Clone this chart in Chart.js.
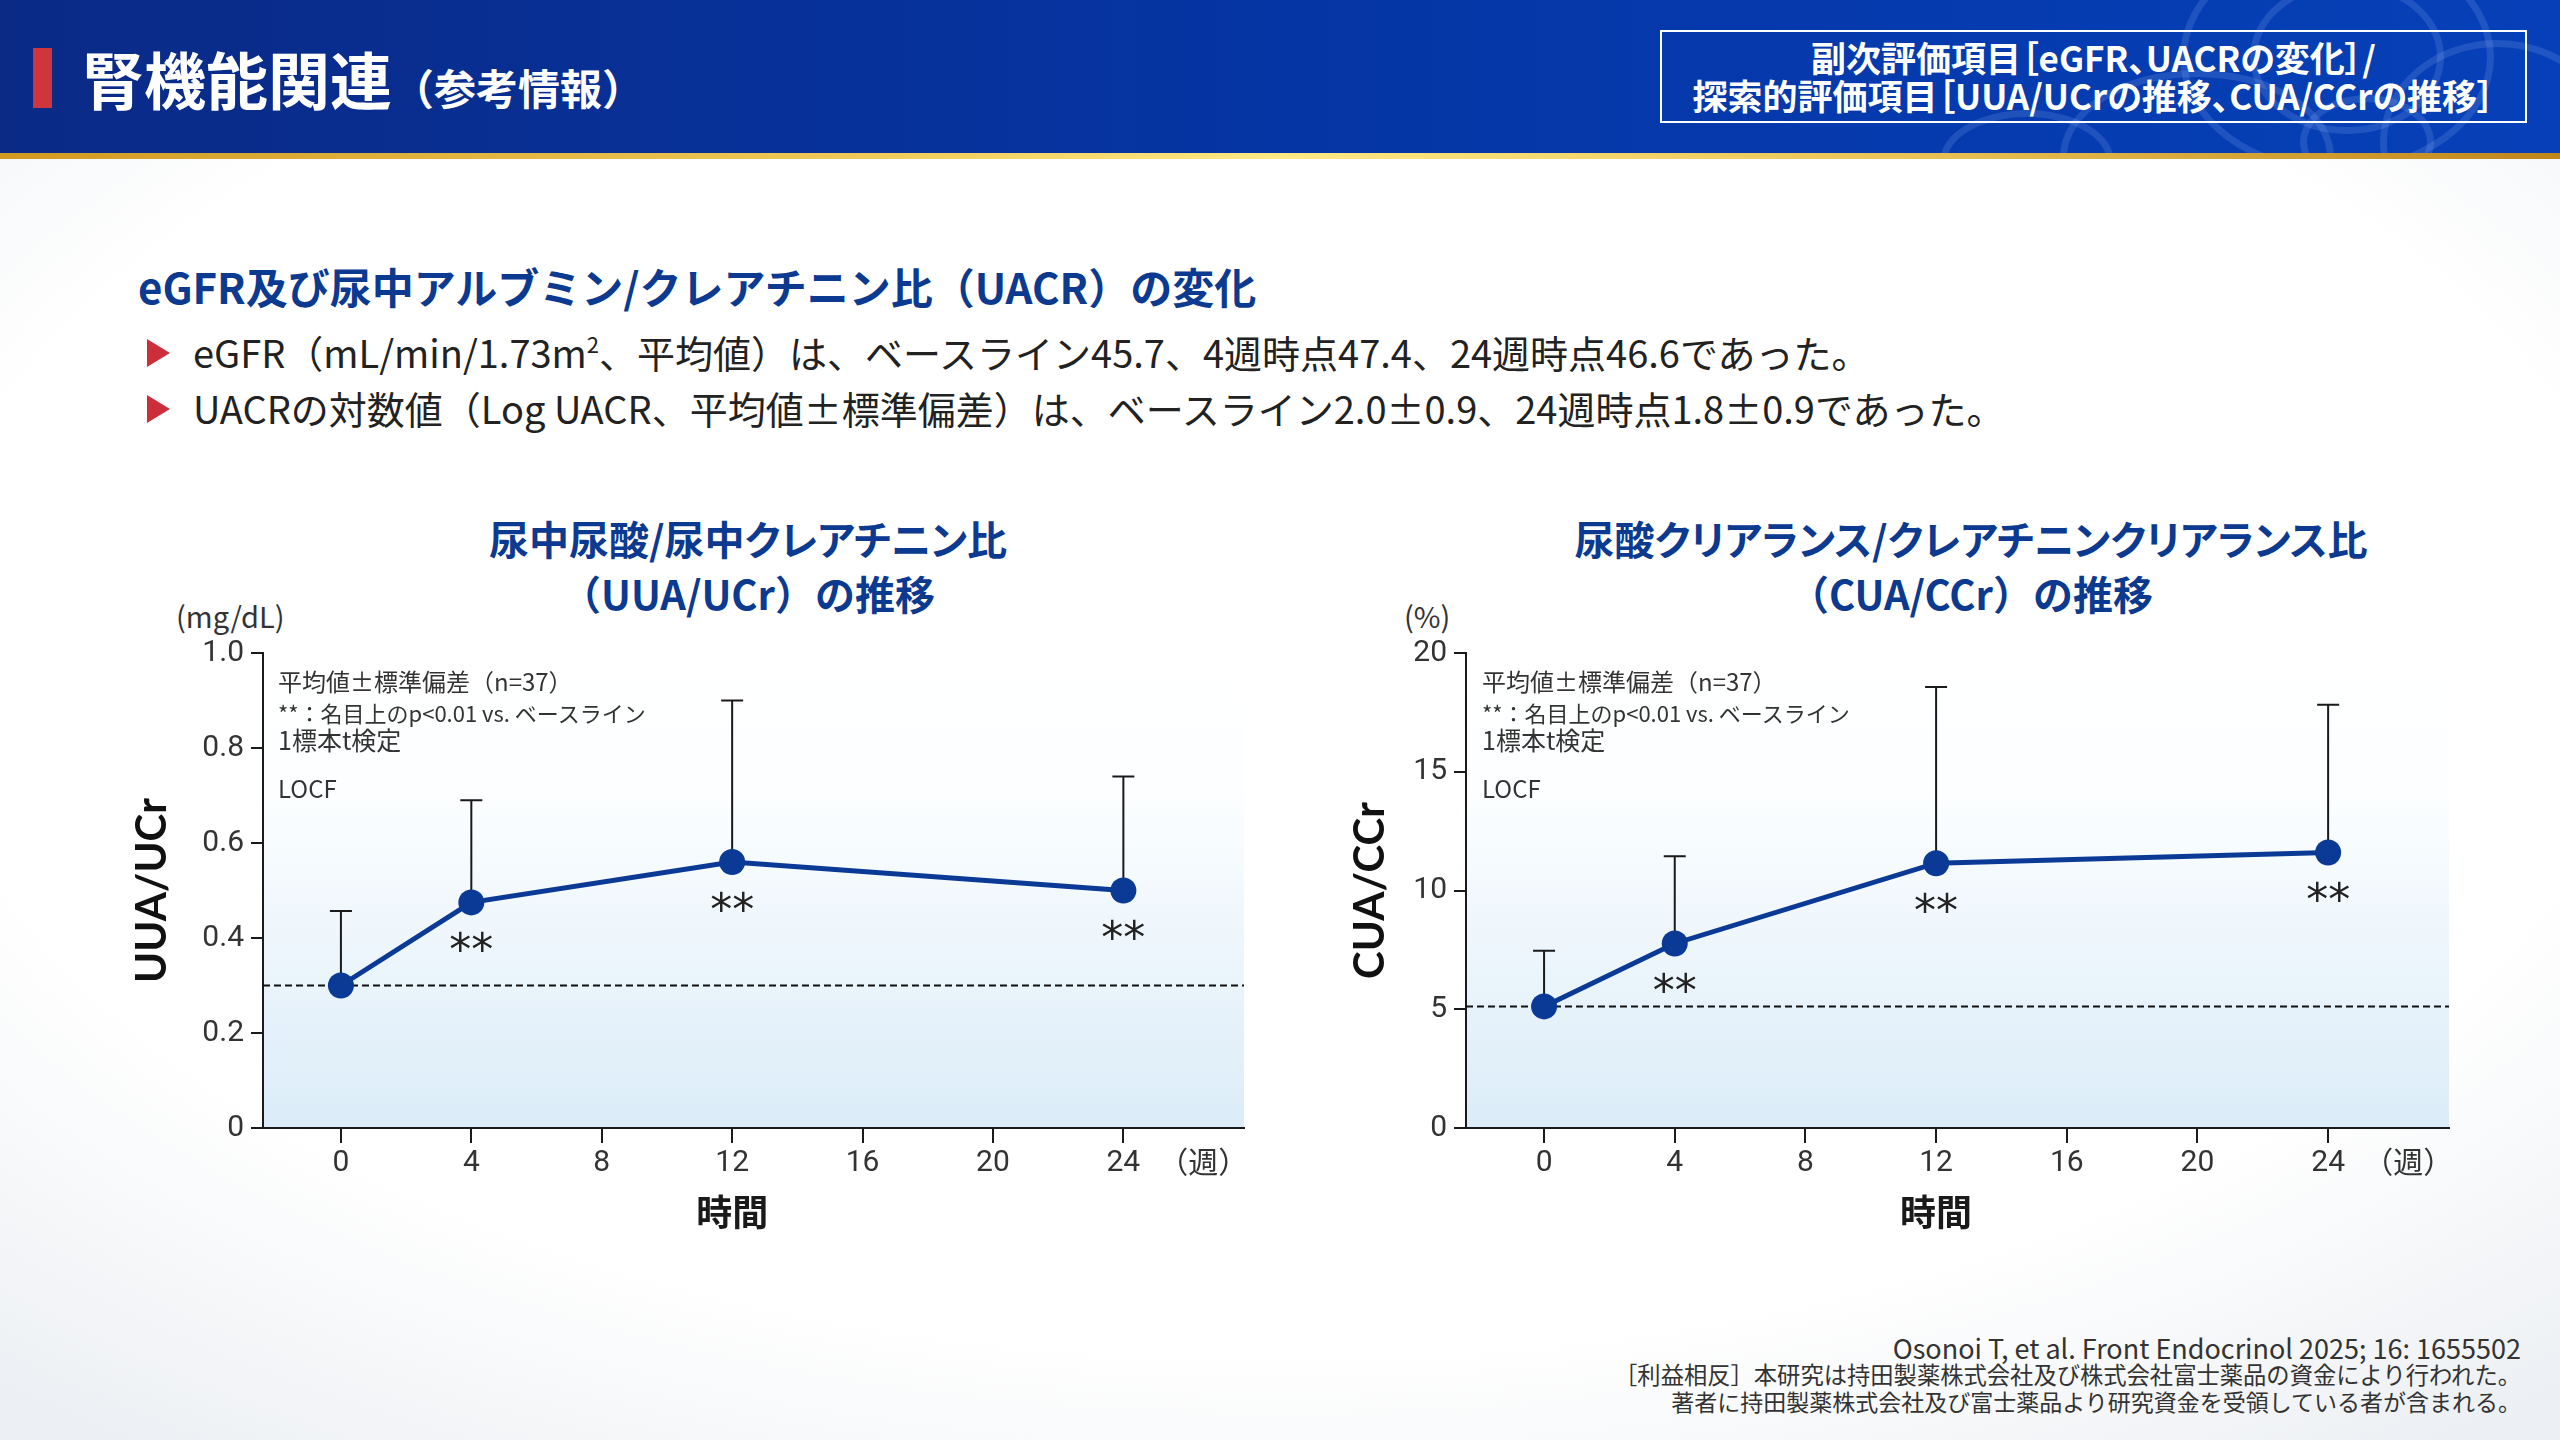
<!DOCTYPE html>
<html lang="ja">
<head>
<meta charset="utf-8">
<title>腎機能関連（参考情報）</title>
<script src="https://cdn.jsdelivr.net/npm/chart.js@4"></script>
<style>
  html, body { margin: 0; padding: 0; }
  body { width: 2560px; height: 1440px; overflow: hidden; }
  #page {
    position: relative; width: 2560px; height: 1440px; overflow: hidden;
    background: radial-gradient(ellipse 75% 70% at 50% 45%, #ffffff 70%, #eceff3 100%);
    font-family: "Noto Sans CJK JP", "Noto Sans", sans-serif;
    color: #222;
  }
  .palt { font-feature-settings: "palt"; }
  .abs { position: absolute; white-space: nowrap; }
  #header {
    position: absolute; left: 0; top: 0; width: 2560px; height: 153px; overflow: hidden;
    background: linear-gradient(90deg, #0a2a86 0%, #0535a4 50%, #0640b8 100%);
  }
  #gold {
    position: absolute; left: 0; top: 153px; width: 2560px; height: 6px;
    background: linear-gradient(90deg, #d19a22 0%, #f0cc5c 35%, #fde985 50%, #e9c255 75%, #bf861a 100%);
  }
  .ring { position: absolute; border-radius: 50%; border: 7px solid rgba(170,200,255,0.16); }
  #redbar { position: absolute; left: 33px; top: 48px; width: 19px; height: 60px; background: #d0343c; }
  #htitle { left: 82px; top: 43px; height: 70px; line-height: 70px; color: #fff; font-weight: 700; }
  #hbox {
    position: absolute; left: 1660px; top: 30px; width: 863px; height: 89px;
    border: 2px solid #fff; color: #fff; font-weight: 700; font-size: 35px; text-align: center;
    font-feature-settings: "palt";
  }
  #hbox div { height: 38px; line-height: 38px; }
  .blue { color: #0b3a90; font-weight: 700; }
  .tri { position: absolute; width: 0; height: 0; border-top: 14.5px solid transparent; border-bottom: 14.5px solid transparent; border-left: 23px solid #cc2f3a; }
  .ctitle { position: absolute; width: 1200px; text-align: center; font-size: 40px; font-weight: 700; color: #0b3a90; }
  .ctitle div { height: 55px; line-height: 55px; }
  .note { position: absolute; color: #333; }
  .note div { position: absolute; left: 0; white-space: nowrap; }
  canvas { position: absolute; }
  #footer { position: absolute; right: 39px; top: 1334px; text-align: right; font-size: 23px; color: #333; }
  #footer div { height: 27px; line-height: 27px; }
</style>
</head>
<body>
<div id="page">
  <div id="header">
    <div class="ring" style="left:2180px; top:-60px; width:300px; height:220px;"></div>
    <div class="ring" style="left:2250px; top:-20px; width:180px; height:140px;"></div>
    <div class="ring" style="left:2060px; top:70px; width:260px; height:160px;"></div>
    <div class="ring" style="left:2380px; top:40px; width:220px; height:190px;"></div>
    <div class="ring" style="left:1940px; top:110px; width:160px; height:90px;"></div>
    <div class="ring" style="left:2300px; top:95px; width:120px; height:80px;"></div>
    <div id="redbar"></div>
    <div id="htitle" class="abs"><span style="font-size:62px;">腎機能関連</span><span style="font-size:42px;">（参考情報）</span></div>
    <div id="hbox">
      <div style="margin-top:6px;">副次評価項目［eGFR、UACRの変化］/</div>
      <div>探索的評価項目［UUA/UCrの推移、CUA/CCrの推移］</div>
    </div>
  </div>
  <div id="gold"></div>

  <div class="abs blue" style="left:138px; top:259px; height:54px; line-height:54px; font-size:42px;">eGFR及び尿中アルブミン/クレアチニン比（UACR）の変化</div>
  <div class="tri" style="left:147px; top:339px;"></div>
  <div class="abs" style="left:193px; top:326px; height:52px; line-height:52px; font-size:38px; color:#222;">eGFR（mL/min/1.73m<sup style="font-size:22px; line-height:0; vertical-align:15px;">2</sup>、平均値）は、ベースライン45.7、4週時点47.4、24週時点46.6であった。</div>
  <div class="tri" style="left:147px; top:395px;"></div>
  <div class="abs" style="left:193px; top:382px; height:52px; line-height:52px; font-size:38px; color:#222;">UACRの対数値（Log UACR、平均値±標準偏差）は、ベースライン2.0±0.9、24週時点1.8±0.9であった。</div>

  <div class="ctitle" style="left:148px; top:511px;">
    <div class="palt">尿中尿酸/尿中クレアチニン比</div>
    <div>（UUA/UCr）の推移</div>
  </div>
  <div class="ctitle" style="left:1371px; top:511px;">
    <div class="palt">尿酸クリアランス/クレアチニンクリアランス比</div>
    <div>（CUA/CCr）の推移</div>
  </div>

  <div class="abs" style="left:176px; top:595px; height:40px; line-height:40px; font-size:29px; color:#333;">(mg/dL)</div>
  <div class="abs" style="left:1404px; top:595px; height:40px; line-height:40px; font-size:29px; color:#333;">(%)</div>

  <canvas id="chartL" width="1170" height="660" style="left:100px; top:600px; width:1170px; height:660px;"></canvas>
  <canvas id="chartR" width="1170" height="660" style="left:1320px; top:600px; width:1170px; height:660px;"></canvas>

  <div class="note" style="left:278px; top:0;">
    <div style="top:664px; height:34px; line-height:34px; font-size:24px;">平均値±標準偏差（n=37）</div>
    <div style="top:696px; height:32px; line-height:32px; font-size:22px;">**：名目上のp&lt;0.01 vs. ベースライン</div>
    <div style="top:723px; height:32px; line-height:32px; font-size:25px;">1標本t検定</div>
    <div style="top:771px; height:34px; line-height:34px; font-size:24px;">LOCF</div>
  </div>
  <div class="note" style="left:1482px; top:0;">
    <div style="top:664px; height:34px; line-height:34px; font-size:24px;">平均値±標準偏差（n=37）</div>
    <div style="top:696px; height:32px; line-height:32px; font-size:22px;">**：名目上のp&lt;0.01 vs. ベースライン</div>
    <div style="top:723px; height:32px; line-height:32px; font-size:25px;">1標本t検定</div>
    <div style="top:771px; height:34px; line-height:34px; font-size:24px;">LOCF</div>
  </div>

  <div id="footer">
    <div style="font-size:27px;">Osonoi T, et al. Front Endocrinol 2025; 16: 1655502</div>
    <div style="font-size:23.3px;">［利益相反］本研究は持田製薬株式会社及び株式会社富士薬品の資金により行われた。</div>
    <div style="font-size:23px;">著者に持田製薬株式会社及び富士薬品より研究資金を受領している者が含まれる。</div>
  </div>
</div>

<script>
// ---- data ----
const weeks = [0, 4, 12, 24];
const xTickValues = [0, 4, 8, 12, 16, 20, 24];
const xTickLabels = ['0', '4', '8', '12', '16', '20', '24'];
const xUnitLabel = '（週）';
const xTitle = '時間';

const uuaMean = [0.30, 0.475, 0.56, 0.50];
const uuaSD = [0.157, 0.215, 0.34, 0.24];
const uuaSig = ['', '**', '**', '**'];
const uuaTickValues = [0, 0.2, 0.4, 0.6, 0.8, 1.0];
const uuaTickLabels = ['0', '0.2', '0.4', '0.6', '0.8', '1.0'];
const uuaTitle = 'UUA/UCr';

const cuaMean = [5.12, 7.77, 11.15, 11.6];
const cuaSD = [2.34, 3.67, 7.42, 6.22];
const cuaSig = ['', '**', '**', '**'];
const cuaTickValues = [0, 5, 10, 15, 20];
const cuaTickLabels = ['0', '5', '10', '15', '20'];
const cuaTitle = 'CUA/CCr';

// ---- styles ----
const LINE_BLUE = '#0a3a95';
const AXIS = '#1a1a1a';
const TICK_TXT = '#333333';

const decorPlugin = {
  id: 'decor',
  beforeDraw(chart) {
    const {ctx, chartArea: a} = chart;
    const g = ctx.createLinearGradient(0, a.top, 0, a.bottom);
    g.addColorStop(0, 'rgba(255,255,255,1)');
    g.addColorStop(0.3, 'rgba(252,254,255,1)');
    g.addColorStop(1, '#dbecf8');
    ctx.save();
    ctx.fillStyle = g;
    ctx.fillRect(a.left, a.top, a.right - a.left, a.bottom - a.top);
    ctx.restore();
  },
  beforeDatasetsDraw(chart) {
    const o = chart.options.plugins.decor;
    const {ctx, chartArea: a} = chart;
    const xs = chart.scales.x, ys = chart.scales.y;
    ctx.save();
    const yb = ys.getPixelForValue(o.mean[0]);
    ctx.strokeStyle = '#111';
    ctx.lineWidth = 2;
    ctx.setLineDash([7, 4]);
    ctx.beginPath();
    ctx.moveTo(a.left, yb);
    ctx.lineTo(a.right, yb);
    ctx.stroke();
    ctx.setLineDash([]);
    ctx.strokeStyle = '#1a1a1a';
    ctx.lineWidth = 2;
    o.weeks.forEach((w, i) => {
      const x = xs.getPixelForValue(w);
      const y0 = ys.getPixelForValue(o.mean[i]);
      const y1 = ys.getPixelForValue(o.mean[i] + o.sd[i]);
      ctx.beginPath();
      ctx.moveTo(x, y0);
      ctx.lineTo(x, y1);
      ctx.moveTo(x - 11, y1);
      ctx.lineTo(x + 11, y1);
      ctx.stroke();
    });
    ctx.restore();
  },
  afterDatasetsDraw(chart) {
    const o = chart.options.plugins.decor;
    const {ctx} = chart;
    const xs = chart.scales.x, ys = chart.scales.y;
    ctx.save();
    ctx.fillStyle = '#222';
    ctx.font = '44px "DejaVu Sans"';
    ctx.textAlign = 'center';
    ctx.textBaseline = 'alphabetic';
    o.weeks.forEach((w, i) => {
      const s = o.sig[i];
      if (!s) return;
      const m = ctx.measureText(s);
      const x = xs.getPixelForValue(w);
      const yc = ys.getPixelForValue(o.mean[i]) + 39;
      const base = yc + (m.actualBoundingBoxAscent - m.actualBoundingBoxDescent) / 2;
      ctx.fillText(s, x, base);
    });
    ctx.fillStyle = TICK_TXT;
    ctx.font = '30px "Noto Sans CJK JP"';
    ctx.textBaseline = 'middle';
    ctx.fillText(o.unit, xs.getPixelForValue(26.45), xs.top + 34);
    ctx.fillStyle = '#1a1a1a';
    ctx.font = 'bold 36px "Noto Sans CJK JP"';
    ctx.fillText(o.xtitle, xs.getPixelForValue(12), xs.top + 84);
    ctx.restore();
  }
};

function makeChart(id, mean, sd, sig, yTickValues, yTickLabels, yTitle, yWidth, titlePad, padRight) {
  const ctx = document.getElementById(id).getContext('2d');
  return new Chart(ctx, {
    type: 'line',
    data: {
      datasets: [{
        data: weeks.map((w, i) => ({x: w, y: mean[i]})),
        borderColor: LINE_BLUE,
        backgroundColor: LINE_BLUE,
        borderWidth: 5,
        pointRadius: 13,
        pointHoverRadius: 13,
        pointBackgroundColor: LINE_BLUE,
        pointBorderWidth: 0,
        tension: 0,
        fill: false,
        clip: false
      }]
    },
    options: {
      responsive: false,
      animation: false,
      devicePixelRatio: 1,
      layout: {padding: {top: 53, right: padRight, left: 0, bottom: 0}},
      plugins: {
        legend: {display: false},
        tooltip: {enabled: false},
        decor: {weeks: weeks, mean: mean, sd: sd, sig: sig, unit: xUnitLabel, xtitle: xTitle}
      },
      scales: {
        x: {
          type: 'linear',
          min: -2.39,
          max: 27.7,
          afterBuildTicks: s => { s.ticks = xTickValues.map(v => ({value: v})); },
          afterFit: s => { s.height = 132; },
          ticks: {
            autoSkip: false, maxRotation: 0, padding: 2, color: TICK_TXT,
            font: {family: 'Roboto', size: 30},
            callback: (v, i) => xTickLabels[i]
          },
          grid: {display: true, drawOnChartArea: false, drawTicks: true, tickLength: 15, color: AXIS, lineWidth: 2},
          border: {display: true, color: AXIS, width: 2}
        },
        y: {
          type: 'linear',
          min: yTickValues[0],
          max: yTickValues[yTickValues.length - 1],
          afterBuildTicks: s => { s.ticks = yTickValues.map(v => ({value: v})); },
          afterFit: s => { s.width = yWidth; },
          ticks: {
            padding: 7, color: TICK_TXT,
            font: {family: 'Roboto', size: 30},
            callback: (v, i) => yTickLabels[i]
          },
          grid: {display: true, drawOnChartArea: false, drawTicks: true, tickLength: 12, color: AXIS, lineWidth: 2},
          border: {display: true, color: AXIS, width: 2},
          title: {
            display: true, text: yTitle, color: '#111',
            font: {family: 'Lato', size: 42, weight: 'bold', lineHeight: 1.2},
            padding: {top: titlePad, bottom: 0}
          }
        }
      }
    },
    plugins: [decorPlugin]
  });
}

makeChart('chartL', uuaMean, uuaSD, uuaSig, uuaTickValues, uuaTickLabels, uuaTitle, 163, 27, 26);
makeChart('chartR', cuaMean, cuaSD, cuaSig, cuaTickValues, cuaTickLabels, cuaTitle, 146, 25, 41);
</script>
</body>
</html>
